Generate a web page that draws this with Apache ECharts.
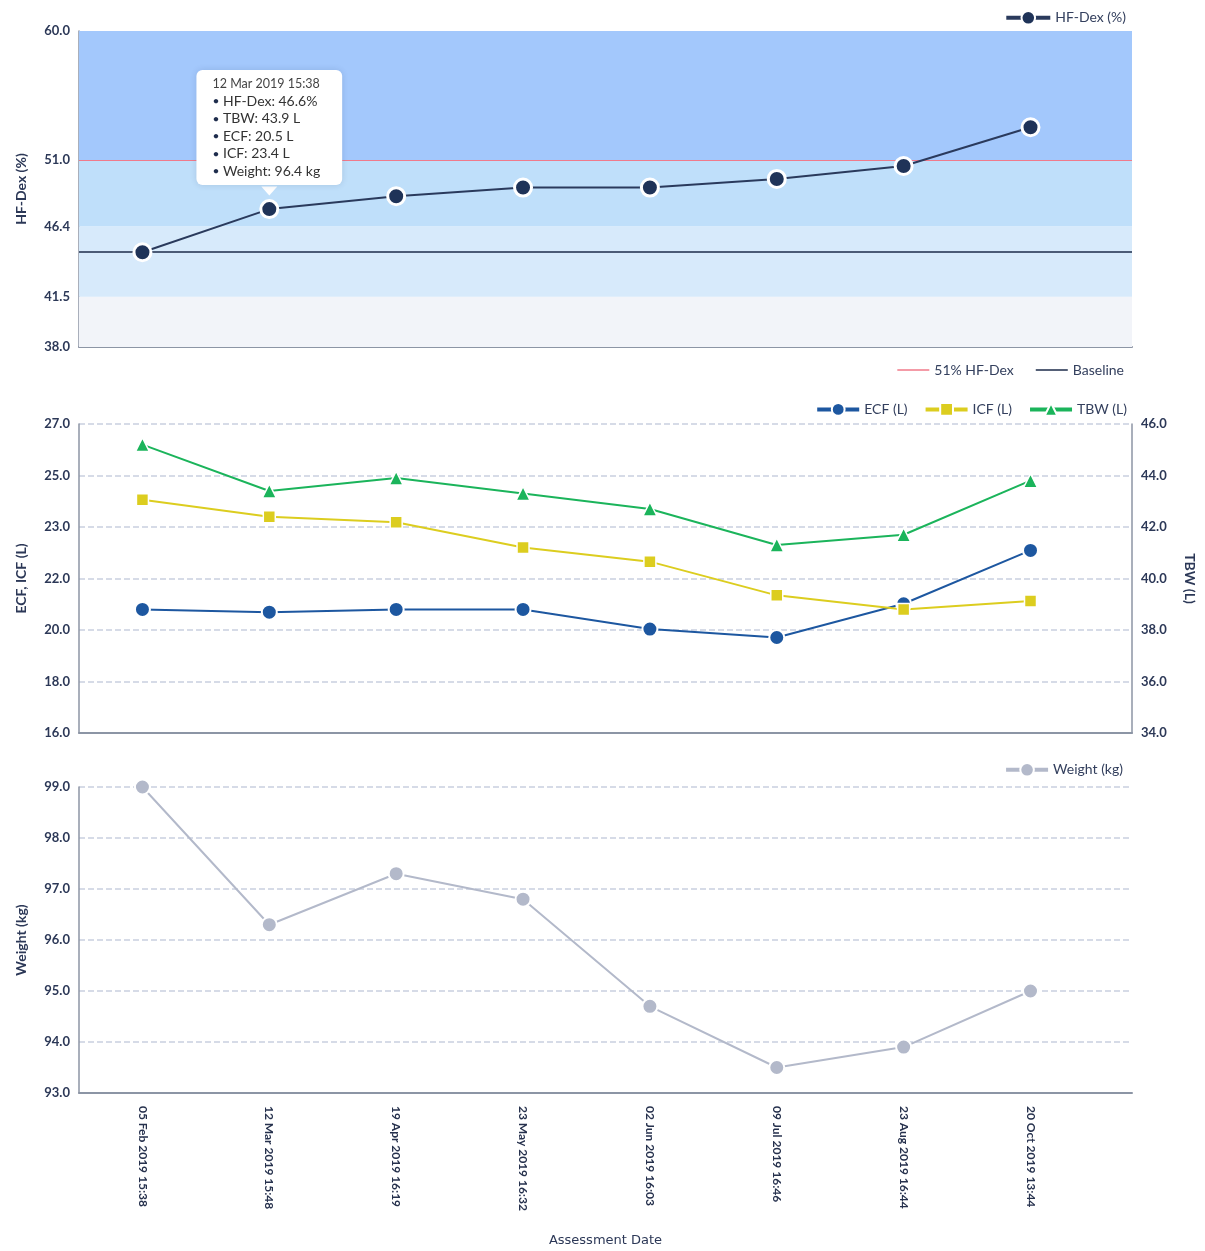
<!DOCTYPE html>
<html>
<head>
<meta charset="utf-8">
<title>HF-Dex trend</title>
<script src="https://cdn.jsdelivr.net/npm/echarts@6/dist/echarts.min.js"></script>
<style>
  html, body { margin: 0; padding: 0; background: #fff; }
  #main { width: 1205px; height: 1251px; }
</style>
</head>
<body>
<div id="main"></div>
<script>
// assessment dates (x axis)
var dates = ['05 Feb 2019 15:38', '12 Mar 2019 15:48', '19 Apr 2019 16:19', '23 May 2019 16:32',
  '02 Jun 2019 16:03', '09 Jul 2019 16:46', '23 Aug 2019 16:44', '20 Oct 2019 13:44'];
var dateIdx = [0, 1, 2, 3, 4, 5, 6, 7];

// series values
var hfDex = [44.6, 47.6, 48.5, 49.1, 49.1, 49.7, 50.6, 53.3];
var ecf = [20.4, 20.3, 20.4, 20.4, 19.7, 19.4, 20.6, 22.5];
var icf = [24.3, 23.7, 23.5, 22.6, 22.1, 20.9, 20.4, 20.7];
var tbw = [45.2, 43.4, 43.9, 43.3, 42.7, 41.3, 41.7, 43.8];
var weight = [99.0, 96.3, 97.3, 96.8, 94.7, 93.5, 93.9, 95.0];

// HF-Dex zones (tick labels are the zone edges)
var hfTicks = [38, 41.5, 46.4, 51, 60];
var zoneColors = ['#f2f4f9', '#d7eafb', '#bfdffa', '#a3c8fc'];
var threshold = 51;

// left fluid axis: 6 equal steps from 16 to 27 (labels get rounded)
var fluidTicks = [16, 17.8333, 19.6667, 21.5, 23.3333, 25.1667, 27];

// callout on the 2nd assessment
var tipIndex = 1;
var tipTitle = '12 Mar 2019 15:38';
var tipLines = ['HF-Dex: 46.6%', 'TBW: 43.9 L', 'ECF: 20.5 L', 'ICF: 23.4 L', 'Weight: 96.4 kg'];

var axisGrey = '#8c95a5';
var labelColor = '#2c3857';

function pairs(arr) {
  return arr.map(function (v, i) { return [i, v]; });
}

function xAxisFor(gridIndex, last) {
  return {
    type: 'value',
    gridIndex: gridIndex,
    min: -0.5,
    max: 7.8,
    axisLine: { show: true, onZero: false, lineStyle: { color: axisGrey, width: 2 } },
    axisTick: { show: false, customValues: dateIdx },
    splitLine: { show: false },
    axisLabel: {
      show: last,
      customValues: dateIdx,
      rotate: -90,
      margin: 13,
      fontSize: 12,
      fontWeight: 'bold',
      color: '#26314d',
      formatter: function (v) { return dates[Math.round(v)]; }
    },
    name: last ? 'Assessment Date' : '',
    nameLocation: 'middle',
    nameGap: 141,
    nameTextStyle: { fontSize: 13, color: '#2c3857', fontFamily: 'DejaVu Sans' }
  };
}

function yAxisBase(gridIndex, name) {
  return {
    type: 'value',
    gridIndex: gridIndex,
    name: name,
    nameLocation: 'middle',
    nameGap: 51,
    nameTextStyle: { fontSize: 14, fontWeight: 'bold', color: '#2c3857' },
    axisLine: { show: true, onZero: false, lineStyle: { color: axisGrey, width: 1.5 } },
    axisTick: { show: false },
    axisLabel: { fontSize: 13, fontWeight: 'bold', color: labelColor, margin: 9 },
    splitLine: { show: false }
  };
}

var dashed = { show: true, lineStyle: { color: '#d6dbe7', width: 2, type: [6, 3] } };

// top chart axes
var yHf = yAxisBase(0, 'HF-Dex (%)');
yHf.min = 38;
yHf.max = 60;
yHf.axisTick.customValues = hfTicks;
yHf.axisLabel.customValues = hfTicks;
yHf.axisLabel.formatter = function (v) { return v.toFixed(1); };

// middle chart axes
var yFluid = yAxisBase(1, 'ECF, ICF (L)');
yFluid.min = 16;
yFluid.max = 27;
yFluid.axisTick.customValues = fluidTicks;
yFluid.axisLabel.customValues = fluidTicks;
yFluid.axisLabel.formatter = function (v) { return Math.round(v).toFixed(1); };
yFluid.splitLine = dashed;

var yTbw = yAxisBase(1, 'TBW (L)');
yTbw.position = 'right';
yTbw.min = 34;
yTbw.max = 46;
yTbw.interval = 2;
yTbw.nameRotate = -90;
yTbw.axisLabel.formatter = function (v) { return v.toFixed(1); };

// bottom chart axis
var yWeight = yAxisBase(2, 'Weight (kg)');
yWeight.min = 93;
yWeight.max = 99;
yWeight.interval = 1;
yWeight.axisLabel.formatter = function (v) { return v.toFixed(1); };
yWeight.splitLine = dashed;

// coloured zones behind the HF-Dex line
var zones = [];
for (var k = 0; k < hfTicks.length - 1; k++) {
  zones.push([{ yAxis: hfTicks[k], itemStyle: { color: zoneColors[k] } }, { yAxis: hfTicks[k + 1] }]);
}

// HF-Dex points, 2nd one carries the callout
var hfData = pairs(hfDex).map(function (p, i) {
  if (i !== tipIndex) return p;
  return {
    value: p,
    label: {
      show: true,
      position: 'top',
      distance: 14,
      backgroundColor: '#fff',
      borderRadius: 6,
      padding: [5, 22, 5, 16],
      shadowColor: 'rgba(30,50,90,0.15)',
      shadowBlur: 6,
      formatter: ['{t|' + tipTitle + '}'].concat(tipLines.map(function (l) {
        return '{b|•}{v| ' + l + '}';
      })).join('\n'),
      rich: {
        t: { fontSize: 12.5, color: '#444', lineHeight: 17.5, align: 'left' },
        b: { fontSize: 12, color: '#1f2d4d', lineHeight: 17.5, align: 'left' },
        v: { fontSize: 14, color: '#333', lineHeight: 17.5, align: 'left' }
      }
    }
  };
});

var lineIcon = 'path://M0,0H30V1.4H0Z';
var legendText = { fontSize: 14, color: '#34405e' };

var option = {
  animation: false,
  textStyle: { fontFamily: 'Lato' },
  grid: [
    { left: 79, right: 73, top: 31, height: 316 },
    { left: 79, right: 73, top: 424, height: 309 },
    { left: 79, right: 73, top: 787, height: 306 }
  ],
  legend: [
    { data: ['HF-Dex (%)'], top: 5, right: 74, itemWidth: 44, itemHeight: 17, lineStyle: { width: 4 }, textStyle: legendText },
    {
      data: [{ name: '51% HF-Dex', icon: lineIcon }, { name: 'Baseline', icon: lineIcon }],
      top: 358, right: 76, itemWidth: 32, itemHeight: 14, itemGap: 22, textStyle: legendText
    },
    { data: ['ECF (L)', 'ICF (L)', 'TBW (L)'], top: 397, right: 73, itemWidth: 42, itemHeight: 16, itemGap: 16, lineStyle: { width: 4 }, textStyle: legendText },
    { data: ['Weight (kg)'], top: 757, right: 77, itemWidth: 42, itemHeight: 17, lineStyle: { width: 4 }, textStyle: legendText }
  ],
  xAxis: [xAxisFor(0, false), xAxisFor(1, false), xAxisFor(2, true)],
  yAxis: [yHf, yFluid, yTbw, yWeight],
  series: [
    {
      name: 'zones',
      type: 'line',
      xAxisIndex: 0,
      yAxisIndex: 0,
      data: [],
      silent: true,
      markArea: { silent: true, data: zones }
    },
    {
      name: '51% HF-Dex',
      type: 'line',
      xAxisIndex: 0,
      yAxisIndex: 0,
      data: [],
      color: '#f07a8a',
      symbol: 'none',
      markLine: {
        silent: true,
        symbol: 'none',
        label: { show: false },
        lineStyle: { color: '#f07a8a', width: 1.2, type: 'solid' },
        data: [{ yAxis: threshold }]
      }
    },
    {
      name: 'Baseline',
      type: 'line',
      xAxisIndex: 0,
      yAxisIndex: 0,
      data: [],
      color: '#1d2b4a',
      symbol: 'none',
      markLine: {
        silent: true,
        symbol: 'none',
        label: { show: false },
        lineStyle: { color: '#1d2b4a', width: 1.5, type: 'solid' },
        data: [{ yAxis: hfDex[0] }]
      }
    },
    {
      name: 'HF-Dex (%)',
      type: 'line',
      xAxisIndex: 0,
      yAxisIndex: 0,
      z: 5,
      data: hfData,
      color: '#1f3358',
      symbol: 'circle',
      symbolSize: 17,
      itemStyle: { color: '#1f3358', borderColor: '#fff', borderWidth: 3 },
      lineStyle: { color: '#2a3a5c', width: 2 },
      markPoint: {
        silent: true,
        label: { show: false },
        itemStyle: { color: '#fff' },
        data: [{
          coord: [tipIndex, hfDex[tipIndex]],
          symbol: 'triangle',
          symbolRotate: 180,
          symbolSize: [16, 9],
          symbolOffset: [0, -18]
        }]
      }
    },
    {
      name: 'ECF (L)',
      type: 'line',
      xAxisIndex: 1,
      yAxisIndex: 1,
      data: pairs(ecf),
      color: '#1d57a0',
      symbol: 'circle',
      symbolSize: 15,
      itemStyle: { borderColor: '#fff', borderWidth: 2 },
      lineStyle: { width: 2 }
    },
    {
      name: 'ICF (L)',
      type: 'line',
      xAxisIndex: 1,
      yAxisIndex: 1,
      data: pairs(icf),
      color: '#dccd1f',
      symbol: 'rect',
      symbolSize: 12,
      itemStyle: { borderColor: '#fff', borderWidth: 1.5 },
      lineStyle: { width: 2 }
    },
    {
      name: 'TBW (L)',
      type: 'line',
      xAxisIndex: 1,
      yAxisIndex: 2,
      data: pairs(tbw),
      color: '#1bb45b',
      symbol: 'triangle',
      symbolSize: 14,
      itemStyle: { borderColor: '#fff', borderWidth: 1.5 },
      lineStyle: { width: 2 }
    },
    {
      name: 'Weight (kg)',
      type: 'line',
      xAxisIndex: 2,
      yAxisIndex: 3,
      data: pairs(weight),
      color: '#b3b9ca',
      symbol: 'circle',
      symbolSize: 15,
      itemStyle: { borderColor: '#fff', borderWidth: 2 },
      lineStyle: { width: 2 }
    }
  ]
};

var myChart = echarts.init(document.getElementById('main'));
myChart.setOption(option);
</script>
</body>
</html>
